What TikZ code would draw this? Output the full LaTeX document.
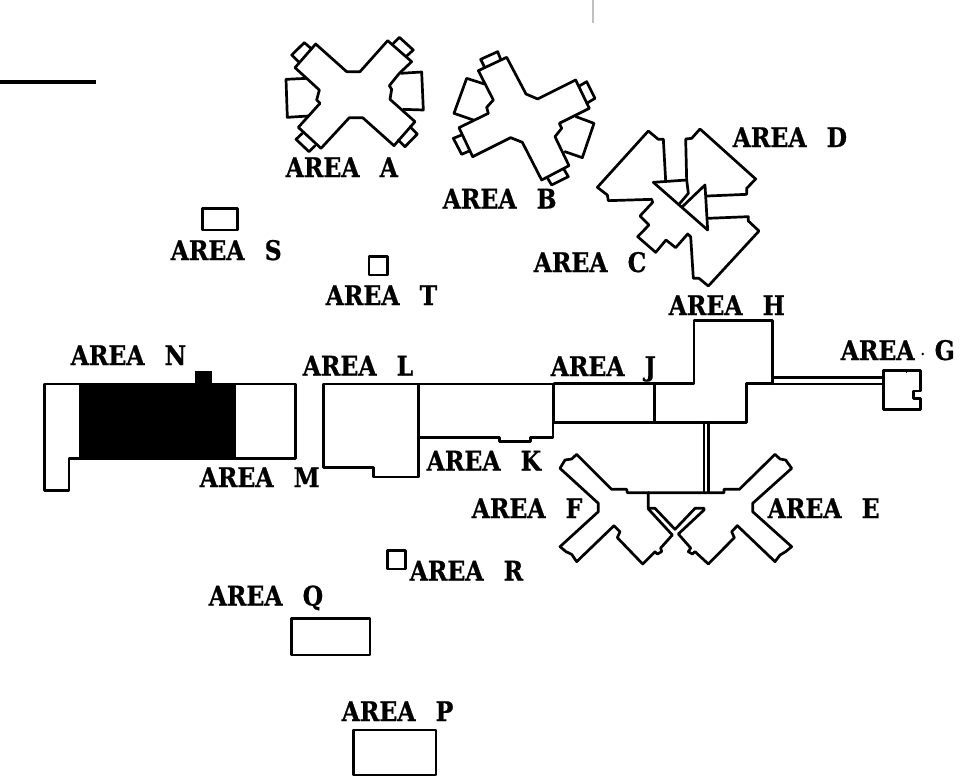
\documentclass[tikz,border=0pt]{standalone}
\usepackage{graphicx}
\usepackage{fontspec}
\newfontfamily\labelfont[FakeBold=0.8]{DejaVu Serif Bold}
\newcommand{\arealabel}[1]{\makebox[94pt][l]{\scalebox{0.87}[1]{AREA}}\scalebox{0.87}[1]{#1}}
\tikzset{
  wall/.style={draw=black,line width=2.7pt,line join=round,line cap=round},
  area/.style={font=\labelfont\fontsize{27}{27}\selectfont,anchor=base west,inner sep=0pt},
  zA/.style={shift={(270,20)},x=0.33333pt,y=-0.33333pt},
  zC/.style={shift={(580,110)},x=0.33333pt,y=-0.33333pt},
  zH/.style={shift={(540,310)},x=0.33333pt,y=-0.33333pt},
  zN/.style={shift={(30,340)},x=0.33807pt,y=-0.33807pt},
  zS/.style={shift={(160,200)},x=0.33333pt,y=-0.33333pt},
  zP/.style={shift={(200,540)},x=0.33333pt,y=-0.33333pt}
}
\begin{document}
\begin{tikzpicture}[x=1pt,y=-1pt]
\useasboundingbox (0,0) rectangle (968,779);
\draw[line width=3.6pt] (0,82) -- (96,82);
\draw[black!25,line width=1.8pt] (593,0) -- (593,23);
% AREA A
\begin{scope}[zA]
\draw[wall] (137,72)--(230,155)--(270,155)--(353,62)--(425,125)--(388,160)--(358,197)--(365,208)--(360,238)--(435,305)--(372,377)--(278,293)--(238,293)--(153,385)--(85,322)--(150,250)--(140,240)--(148,210)--(75,143)--cycle;
\draw[wall] (85,125)--(65,105)--(103,68)--(125,87);
\draw[wall] (370,70)--(388,52)--(430,90)--(410,108);
\draw[wall] (110,175)--(48,178)--(52,292)--(115,288);
\draw[wall] (392,160)--(455,156)--(460,270)--(400,268);
\draw[wall] (97,340)--(78,358)--(117,395)--(135,377);
\draw[wall] (420,320)--(442,342)--(405,380)--(385,360);
% AREA B
\draw[wall] (710,112)--(768,222)--(803,237)--(917,180)--(958,265)--(868,310)--(875,325)--(855,350)--(897,437)--(815,480)--(757,367)--(722,353)--(608,410)--(567,323)--(655,280)--(650,262)--(670,240)--(625,152)--cycle;
\draw[wall] (643,140)--(632,118)--(683,95)--(692,118);
\draw[wall] (928,198)--(950,185)--(975,235)--(950,250);
\draw[wall] (643,192)--(590,175)--(552,280)--(610,300);
\draw[wall] (918,290)--(972,310)--(937,413)--(885,395);
\draw[wall] (575,345)--(550,355)--(575,403)--(600,392);
\draw[wall] (833,475)--(845,495)--(895,470)--(883,450);
\end{scope}
% AREA C and D
\begin{scope}[zC]
\draw[wall] (250,88)--(235,88)--(205,63)--(52,232)--(82,255)--(85,272)--(215,268)--(218,277)--(180,318)--(207,345)--(173,380)--(227,427)--(258,390)--(287,413)--(323,372)--(332,380)--(340,505)--(357,505)--(385,528)--(537,363)--(505,333)--(505,320)--(383,325);
\draw[wall] (250,88)--(257,212);
\draw[wall] (220,217)--(320,210)--(317,87)--(335,85)--(360,57)--(527,207)--(500,235)--(500,253)--(382,258);
\draw[wall] (220,217)--(383,360)--(375,225)--(305,292);
\draw[wall] (320,210)--(325,250)--(297,283);
\end{scope}
% AREA H, J, G, E, F
\begin{scope}[zH]
\draw[wall] (42,220)--(462,220)--(462,32)--(698,32)--(698,220)--(620,220)--(620,337)--(42,337)--cycle;
\draw[wall] (343,220)--(343,337);
\draw[wall] (492,337)--(492,548);
\draw[wall] (505,337)--(505,548);
\draw[wall] (698,203)--(1030,203);
\draw[wall] (698,222)--(1030,222);
\draw[wall] (1030,182)--(1142,182)--(1142,243)--(1120,243)--(1120,265)--(1142,265)--(1142,298)--(1030,298)--cycle;
\draw[line width=1.2pt] (1100,182)--(1100,188);
\fill (1148,132) circle (4);
\draw[wall] (325,548)--(262,548)--(260,538)--(215,538)--(110,433)--(95,447)--(75,450)--(60,475)--(175,580)--(175,605)--(60,710)--(78,725)--(95,733)--(110,755)--(222,647)--(240,665)--(232,683)--(308,762)--(345,725)--(352,732)--(365,725)--(362,714)--(397,675)--(325,597)--(325,548);
\draw[wall] (325,548)--(552,548)--(552,538)--(598,538)--(705,433)--(720,447)--(737,450)--(755,475)--(638,580)--(638,605)--(755,710)--(737,725)--(720,735)--(705,755)--(592,647)--(575,665)--(583,683)--(505,762)--(465,725)--(457,732)--(445,725)--(452,714)--(415,672)--(492,600)--(492,595)--(465,595)--(405,658)--(345,595)--(325,595);
\end{scope}
% AREA N, M, L, K
\begin{scope}[zN]
\fill (145,127) rectangle (610,355);
\fill (487,93) rectangle (537,130);
\draw[wall] (145,130)--(42,130)--(42,445)--(115,445)--(115,350)--(145,350);
\draw[wall] (610,130)--(785,130)--(785,350)--(610,350);
\draw[wall] (868,130)--(1150,130)--(1150,405)--(1017,405)--(1017,378)--(868,378)--cycle;
\draw[wall] (1150,130)--(1547,130)--(1547,288)--(1480,288)--(1480,300)--(1388,300)--(1388,288)--(1150,288);
\end{scope}
% small buildings
\begin{scope}[zS]
\draw[wall] (127,25) rectangle (233,90);
\draw[wall] (627,170) rectangle (683,225);
\end{scope}
\begin{scope}[zP]
\draw[wall] (562,32) rectangle (617,87);
\draw[wall] (275,235) rectangle (510,345);
\draw[wall] (460,570) rectangle (708,705);
\end{scope}
% labels
\node[area] (la) at (285.5,177) {\arealabel{A}};
\node[area] (lb) at (442.5,208.5) {\arealabel{B}};
\node[area] (lc) at (533.5,272) {\arealabel{C}};
\node[area] (ld) at (732.5,147) {\arealabel{D}};
\node[area] (le) at (767.5,518) {\arealabel{E}};
\node[area] (lf) at (471.5,518) {\arealabel{F}};
\node[area] (lg) at (840.5,360) {\arealabel{G}};
\node[area] (lh) at (668.5,315) {\arealabel{H}};
\node[area] (lj) at (550.5,376) {\arealabel{J}};
\node[area] (lk) at (426.5,470.5) {\arealabel{K}};
\node[area] (ll) at (302.5,375.5) {\arealabel{L}};
\node[area] (lm) at (199.5,487) {\arealabel{M}};
\node[area] (ln) at (70.5,365) {\arealabel{N}};
\node[area] (lp) at (341.5,721) {\arealabel{P}};
\node[area] (lq) at (208.5,605.5) {\arealabel{Q}};
\node[area] (lr) at (409.5,580.5) {\arealabel{R}};
\node[area] (ls) at (170.5,260) {\arealabel{S}};
\node[area] (lt) at (325.5,305) {\arealabel{T}};
\end{tikzpicture}
\end{document}
